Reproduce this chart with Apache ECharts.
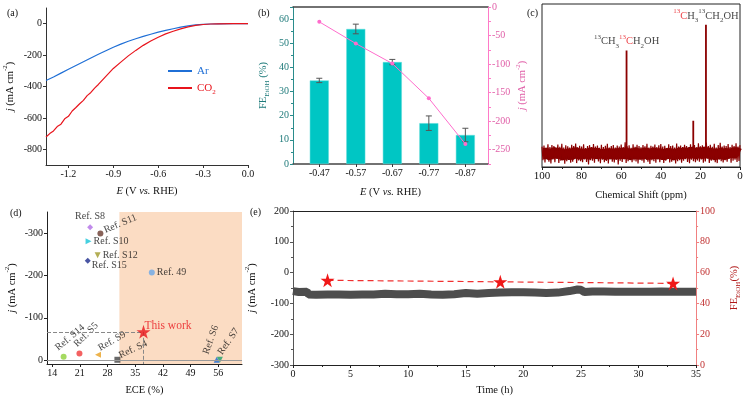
<!DOCTYPE html>
<html lang="en">
<head>
<meta charset="utf-8">
<title>CO2 to EtOH</title>
<script src="https://cdn.jsdelivr.net/npm/echarts@6.0.0/dist/echarts.min.js"></script>
</head>
<body style="margin:0;background:#fff">
<div id="container" style="width:750px;height:399px"></div>
<script>
// (a) LSV curves
var lsvEAr = [-1.35,-1.3,-1.25,-1.2,-1.15,-1.1,-1.05,-1.0,-0.95,-0.9,-0.85,-0.8,-0.75,-0.7,-0.65,-0.6,-0.55,-0.5,-0.45,-0.4,-0.35,-0.3,-0.25,-0.2,-0.1,0];
var lsvAr = [-362,-340,-315,-290,-266,-242,-218,-195,-172,-150,-130,-112,-96,-81,-67,-54,-43,-32,-22,-14,-8,-4,-2,-1,0,0];
var lsvECO2 = [-1.35,-1.325,-1.3,-1.275,-1.25,-1.225,-1.2,-1.175,-1.15,-1.125,-1.1,-1.075,-1.05,-1.025,-1.0,-0.95,-0.9,-0.85,-0.8,-0.75,-0.7,-0.65,-0.6,-0.55,-0.5,-0.45,-0.4,-0.35,-0.3,-0.25,-0.2,-0.1,0];
var lsvCO2 = [-722,-700,-683,-655,-640,-606,-590,-556,-534,-510,-488,-458,-438,-410,-387,-335,-285,-245,-205,-170,-138,-110,-86,-65,-48,-33,-20,-11,-5,-2,-1,0,0];

// (b) FE and partial current
var fePot = [-0.47,-0.57,-0.67,-0.77,-0.87];
var feEtOH = [34.6,55.9,42.2,16.9,12.0];
var feErr = [0.9,2.0,1.1,3.0,2.8];
var jEtOH = [-26,-64,-99,-160,-240];

// (c) 13C NMR: noise envelope (every 1 ppm, from 100 down) and peaks
var nmrUpper = [12.5,13.1,11.8,14.0,12.2,13.5,12.9,11.6,13.8,12.4,
  14.2,12.0,13.3,12.7,11.9,13.6,12.8,14.4,12.1,13.0,
  12.6,13.9,11.7,12.9,13.4,12.2,14.1,12.5,13.2,11.8,
  13.7,12.3,13.0,14.3,12.0,12.8,13.5,11.9,13.1,12.6,
  13.8,12.2,15.2,12.7,13.3,11.8,14.0,12.4,13.6,12.9,
  12.1,13.4,12.7,14.2,11.9,13.0,12.5,13.8,12.2,13.3,
  14.1,12.6,13.0,11.7,13.9,12.8,13.2,12.0,14.4,12.5,
  13.1,12.3,13.7,12.9,11.8,14.0,12.6,13.4,12.1,14.6,
  12.7,13.3,12.2,15.0,12.8,13.6,12.4,14.3,12.0,13.5,
  14.8,12.6,13.2,12.9,14.1,12.3,13.7,12.8,14.5,12.5,
  13.4];
var nmrLower = [4.1,2.8,5.0,3.3,2.2,4.6,3.0,5.3,2.5,3.9,
  4.4,2.0,3.6,4.9,2.7,3.2,5.1,2.4,4.0,3.5,
  2.9,4.7,3.1,1.6,4.2,3.8,2.6,5.0,3.4,2.3,
  4.5,3.0,3.7,2.1,4.8,3.3,2.8,4.3,1.5,3.9,
  3.1,4.6,2.5,3.6,5.2,2.9,4.0,3.4,2.2,4.4,
  3.8,2.6,4.9,3.2,1.9,4.1,3.5,2.7,4.7,3.0,
  4.3,2.4,3.8,5.0,2.8,3.3,4.5,2.1,3.6,4.2,
  2.6,3.9,4.8,3.1,2.3,4.4,3.5,2.9,4.0,3.2,
  4.6,2.7,3.4,5.1,2.5,3.8,4.2,3.0,2.4,4.5,
  3.6,2.8,4.1,3.3,5.0,2.6,3.9,4.4,3.1,3.7];
var peakShift = [57.3, 23.6, 17.2];
var peakHeight = [71.4, 28.3, 87.2];

// (d) comparison with literature
var refNames = ['Ref. S8','Ref. S11','Ref. S10','Ref. S12','Ref. S15','Ref. 49','Ref. S14','Ref. S5','Ref. S9','Ref. S4','Ref. S6','Ref. S7'];
var refECE = [23.6,26.2,23.2,25.5,23.0,39.2,16.9,20.9,25.6,30.5,55.6,56.4];
var refJ = [-314,-299,-281,-248,-235,-207,-8,-16,-13,-1,-1,-1];
var thisWork = [37.1, -67];
var shadeFrom = 31;

// (e) stability
var stabT = [0,0.5,1.2,1.35,2,3,4,5,6,7,8,9,10,11,12,13,14,15,16,17,18,19,20,21,22,23,24,24.7,25,25.3,26,27,28,29,30,31,32,33,34,35];
var stabJ = [-60,-63,-62,-71,-72,-71,-71,-72,-71,-71,-69,-70,-70,-69,-71,-72,-70,-66,-69,-66,-65,-64,-64,-65,-66,-65,-60,-55,-56,-63,-61,-61,-62,-62,-62,-62,-61,-62,-62,-62];
var feT = [3, 18, 33];
var feStab = [55, 54, 53];

var FONT = 'Liberation Serif';
var STAR = 'path://M12,0 L14.9,8.6 L24,8.6 L16.6,13.9 L19.4,22.6 L12,17.3 L4.6,22.6 L7.4,13.9 L0,8.6 L9.1,8.6 Z';

function zip(a, b) { return a.map(function (v, i) { return [v, b[i]]; }); }

function rich(color) {
	return {
		i: {fontStyle: 'italic', fontFamily: FONT, fontSize: 10.5, color: color, lineHeight: 16},
		sup: {fontFamily: FONT, fontSize: 7, color: color, lineHeight: 9, verticalAlign: 'top'},
		sub: {fontFamily: FONT, fontSize: 7, color: color, lineHeight: 9, verticalAlign: 'bottom'},
		r: {fontFamily: FONT, fontSize: 10.5, color: '#e8141c', lineHeight: 16},
		rs: {fontFamily: FONT, fontSize: 7, color: '#e8141c', lineHeight: 9, verticalAlign: 'top'}
	};
}
function nameStyle(color) {
	return {fontFamily: FONT, fontSize: 10.5, color: color, lineHeight: 16, rich: rich(color)};
}
function labelStyle(color, extra) {
	var s = {fontFamily: FONT, fontSize: 10, color: color, margin: 4};
	for (var k in extra) s[k] = extra[k];
	return s;
}
function line(color, w) { return {show: true, onZero: false, lineStyle: {color: color, width: w || 1}}; }
function tick(color, len) { return {show: true, length: len || 3, lineStyle: {color: color}}; }
var JNAME = '{i|j} (mA cm{sup|-2})';
var EPOT = '{i|E} (V {i|vs.} RHE)';

// (d) marker look and where each label starts (px from the marker centre), kept apart from data
var refLook = [
	{symbol: 'diamond', color: '#b26ee6', top: true},
	{symbol: 'circle', color: '#6a3b30', rot: 23, d: [4, -3]},
	{symbol: 'triangle', srot: -90, color: '#17c4d8', rot: 0, d: [5, 0]},
	{symbol: 'triangle', srot: 180, color: '#a09a2a', rot: 0, d: [5, 0]},
	{symbol: 'diamond', color: '#1c2a8c', rot: 0, d: [4, 5]},
	{symbol: 'circle', color: '#6aa8e8', rot: 0, d: [5, 0]},
	{symbol: 'circle', color: '#8fd13a', rot: 40, d: [-7, -8]},
	{symbol: 'circle', color: '#f03a3a', rot: 45, d: [-4, -8]},
	{symbol: 'triangle', srot: 90, color: '#e8a020', rot: 30, d: [1, -6]},
	{symbol: 'rect', color: '#444444', rot: 25, d: [2, -4]},
	{symbol: 'triangle', color: '#1a6ad6', rot: 70, d: [-11, -6]},
	{symbol: 'triangle', srot: 180, color: '#1aa06a', rot: 55, d: [0, -6]}
];
// label offsets are applied in the rotated frame, so turn the screen offset into it
function rotOffset(d, deg) {
	var t = deg * Math.PI / 180, c = Math.cos(t), s = Math.sin(t);
	return [d[0] * c - d[1] * s, d[0] * s + d[1] * c];
}

var nmrData = [], nmrMid = [];
for (var i = 0; i < nmrUpper.length; i++) {
	nmrData.push([100 - i, nmrUpper[i]]);
	if (i < nmrLower.length) {
		nmrData.push([99.5 - i, nmrLower[i]]);
		nmrMid.push([99.5 - i, (nmrUpper[i] + nmrLower[i]) / 2]);
	}
}
var peakData = [];
peakShift.forEach(function (x, k) { peakData.push([x, 6], [x, peakHeight[k]], '-'); });

var dom = document.getElementById('container');
var myChart = echarts.init(dom, null, {renderer: 'canvas'});

var option = {
	animation: false,
	textStyle: {fontFamily: FONT},
	grid: [
		{left: 46, top: 8, width: 202, height: 157},
		{left: 293, top: 7, width: 195, height: 157},
		{left: 542, top: 4, width: 198, height: 163, show: true, borderColor: '#222', borderWidth: 1},
		{left: 47, top: 212, width: 195, height: 156},
		{left: 293, top: 211, width: 420, height: 160}
	],
	legend: {
		left: 168, top: 63, padding: 0, orient: 'vertical', itemGap: 1, itemWidth: 24, itemHeight: 2, icon: 'rect',
		data: [
			{name: 'Ar', textStyle: {color: '#1f6fd6'}},
			{name: 'CO2', textStyle: {color: '#e8141c'}}
		],
		formatter: function (n) { return n === 'CO2' ? 'CO{sub|2}' : n; },
		textStyle: {fontFamily: FONT, fontSize: 11, lineHeight: 16, rich: {sub: {fontFamily: FONT, fontSize: 7, lineHeight: 9, verticalAlign: 'bottom', color: '#e8141c'}}}
	},
	xAxis: [
		{gridIndex: 0, type: 'value', min: -1.35, max: 0, axisLine: line('#333'),
			axisLabel: labelStyle('#111', {customValues: [-1.2, -0.9, -0.6, -0.3, 0], formatter: function (v) { return v.toFixed(1); }}),
			axisTick: {show: true, length: 3, customValues: [-1.2, -0.9, -0.6, -0.3, 0], lineStyle: {color: '#333'}},
			splitLine: {show: false}, name: EPOT, nameLocation: 'middle', nameGap: 18, nameTextStyle: nameStyle('#111')},
		{gridIndex: 1, type: 'value', inverse: true, min: -0.932, max: -0.398, axisLine: line('#444', 1.5),
			axisTick: {show: true, length: 3, customValues: fePot, lineStyle: {color: '#333'}},
			axisLabel: labelStyle('#111', {customValues: fePot, formatter: function (v) { return v.toFixed(2); }}),
			splitLine: {show: false}, name: EPOT, nameLocation: 'middle', nameGap: 20, nameTextStyle: nameStyle('#111')},
		{gridIndex: 1, type: 'value', position: 'top', inverse: true, min: -0.932, max: -0.398, axisLine: line('#444', 1.5),
			axisTick: {show: false}, axisLabel: {show: false}, splitLine: {show: false}},
		{gridIndex: 2, type: 'value', inverse: true, min: 0, max: 100, interval: 20, axisLine: line('#222', 1.2),
			axisTick: tick('#222'), minorTick: {show: true, splitNumber: 2, length: 2, lineStyle: {color: '#222'}},
			axisLabel: labelStyle('#111', {fontSize: 11}), splitLine: {show: false},
			name: 'Chemical Shift (ppm)', nameLocation: 'middle', nameGap: 20, nameTextStyle: nameStyle('#111')},
		{gridIndex: 3, type: 'value', min: 12.7, max: 62, axisLine: line('#222'),
			axisTick: {show: true, length: 3, customValues: [14, 21, 28, 35, 42, 49, 56], lineStyle: {color: '#222'}},
			axisLabel: labelStyle('#111', {customValues: [14, 21, 28, 35, 42, 49, 56]}), splitLine: {show: false},
			name: 'ECE (%)', nameLocation: 'middle', nameGap: 18, nameTextStyle: nameStyle('#111')},
		{gridIndex: 4, type: 'value', min: 0, max: 35, interval: 5, axisLine: line('#222'), axisTick: tick('#222'),
			minorTick: {show: true, splitNumber: 2, length: 2, lineStyle: {color: '#222'}},
			axisLabel: labelStyle('#111'), splitLine: {show: false},
			name: 'Time (h)', nameLocation: 'middle', nameGap: 17, nameTextStyle: nameStyle('#111')},
		{gridIndex: 4, type: 'value', position: 'top', min: 0, max: 35, axisLine: line('#222'),
			axisTick: {show: false}, axisLabel: {show: false}, splitLine: {show: false}}
	],
	yAxis: [
		{gridIndex: 0, type: 'value', min: -900, max: 100, axisLine: line('#333'),
			axisTick: {show: true, length: 3, customValues: [-800, -600, -400, -200, 0], lineStyle: {color: '#333'}},
			axisLabel: labelStyle('#111', {customValues: [-800, -600, -400, -200, 0]}), splitLine: {show: false},
			name: JNAME, nameLocation: 'middle', nameGap: 28, nameTextStyle: nameStyle('#111')},
		{gridIndex: 1, type: 'value', min: 0, max: 65, interval: 10, axisLine: line('#2a8c8c'), axisTick: tick('#2a8c8c'),
			minorTick: {show: true, splitNumber: 2, length: 2, lineStyle: {color: '#2a8c8c'}},
			axisLabel: labelStyle('#1e7a7a', {showMaxLabel: false}), splitLine: {show: false},
			name: 'FE{sub|EtOH} (%)', nameLocation: 'middle', nameGap: 22, nameTextStyle: nameStyle('#1e7a7a')},
		{gridIndex: 1, type: 'value', position: 'right', min: -275, max: 0, interval: 25, axisLine: line('#ff7ac8'), axisTick: tick('#ff7ac8'),
			axisLabel: labelStyle('#e060a8', {formatter: function (v) { return v % 50 === 0 ? String(v) : ''; }}), splitLine: {show: false},
			name: JNAME, nameLocation: 'middle', nameGap: 26, nameTextStyle: nameStyle('#e060a8')},
		{gridIndex: 2, type: 'value', min: 0, max: 100, axisLine: {show: false}, axisTick: {show: false}, axisLabel: {show: false}, splitLine: {show: false}},
		{gridIndex: 3, type: 'value', inverse: true, min: -350, max: 9, axisLine: line('#222'),
			axisTick: {show: true, length: 3, customValues: [-300, -200, -100, 0], lineStyle: {color: '#222'}},
			axisLabel: labelStyle('#111', {customValues: [-300, -200, -100, 0]}), splitLine: {show: false},
			name: JNAME, nameLocation: 'middle', nameGap: 27, nameTextStyle: nameStyle('#111')},
		{gridIndex: 4, type: 'value', min: -300, max: 200, interval: 100, axisLine: line('#555'), axisTick: tick('#555'),
			minorTick: {show: true, splitNumber: 2, length: 2, lineStyle: {color: '#555'}},
			axisLabel: labelStyle('#111'), splitLine: {show: false},
			name: JNAME, nameLocation: 'middle', nameGap: 26, nameTextStyle: nameStyle('#111')},
		{gridIndex: 4, type: 'value', position: 'right', min: 0, max: 100, interval: 20, axisLine: line('#f08080'), axisTick: tick('#f08080'),
			minorTick: {show: true, splitNumber: 2, length: 2, lineStyle: {color: '#f08080'}},
			axisLabel: labelStyle('#c03030'), splitLine: {show: false},
			name: 'FE{sub|EtOH}(%)', nameLocation: 'middle', nameGap: 20, nameTextStyle: nameStyle('#b01818')}
	],
	series: [
		// (a)
		{name: 'Ar', type: 'line', xAxisIndex: 0, yAxisIndex: 0, data: zip(lsvEAr, lsvAr), showSymbol: false,
			lineStyle: {color: '#1f6fd6', width: 1.2}, itemStyle: {color: '#1f6fd6'}},
		{name: 'CO2', type: 'line', xAxisIndex: 0, yAxisIndex: 0, data: zip(lsvECO2, lsvCO2), showSymbol: false,
			lineStyle: {color: '#e8141c', width: 1.2}, itemStyle: {color: '#e8141c'}},
		// (b)
		{name: 'FE', type: 'bar', xAxisIndex: 1, yAxisIndex: 1, data: zip(fePot, feEtOH), barWidth: 19,
			itemStyle: {color: '#00c6c4', borderColor: '#5fdcda', borderWidth: 0.5}},
		{name: 'FEerr', type: 'custom', xAxisIndex: 1, yAxisIndex: 1, z: 5,
			data: fePot.map(function (p, k) { return [p, feEtOH[k] - feErr[k], feEtOH[k] + feErr[k]]; }),
			renderItem: function (params, api) {
				var lo = api.coord([api.value(0), api.value(1)]);
				var hi = api.coord([api.value(0), api.value(2)]);
				var st = {stroke: '#555', lineWidth: 1};
				return {type: 'group', children: [
					{type: 'line', shape: {x1: lo[0], y1: lo[1], x2: hi[0], y2: hi[1]}, style: st},
					{type: 'line', shape: {x1: lo[0] - 3, y1: lo[1], x2: lo[0] + 3, y2: lo[1]}, style: st},
					{type: 'line', shape: {x1: hi[0] - 3, y1: hi[1], x2: hi[0] + 3, y2: hi[1]}, style: st}
				]};
			}},
		{name: 'jEtOH', type: 'line', xAxisIndex: 1, yAxisIndex: 2, data: zip(fePot, jEtOH), z: 6,
			symbol: 'circle', symbolSize: 4, lineStyle: {color: '#ff6ccc', width: 1}, itemStyle: {color: '#ff6ccc'}},
		// (c)
		{name: 'nmrMid', type: 'line', xAxisIndex: 3, yAxisIndex: 3, data: nmrMid, showSymbol: false,
			lineStyle: {color: '#7e0000', width: 11}},
		{name: 'nmr', type: 'line', xAxisIndex: 3, yAxisIndex: 3, data: nmrData, showSymbol: false,
			lineStyle: {color: '#8b0000', width: 1.2}},
		{name: 'peaks', type: 'line', xAxisIndex: 3, yAxisIndex: 3, data: peakData, showSymbol: false, connectNulls: false,
			lineStyle: {color: '#8b0000', width: 1.8}},
		{name: 'peakLabels', type: 'scatter', xAxisIndex: 3, yAxisIndex: 3, symbolSize: 0,
			data: [
				{value: [peakShift[0], peakHeight[0]], label: {formatter: '{sup|13}CH{sub|3}{rs|13}{r|C}H{sub|2}OH'}},
				{value: [peakShift[2], peakHeight[2]], label: {formatter: '{rs|13}{r|C}H{sub|3}{sup|13}CH{sub|2}OH'}}
			],
			label: {show: true, position: 'top', distance: 1, fontFamily: FONT, fontSize: 10.5, color: '#111', lineHeight: 16, rich: rich('#111')}},
		// (d)
		{name: 'shade', type: 'line', xAxisIndex: 4, yAxisIndex: 4, data: [], z: 1,
			markArea: {silent: true, itemStyle: {color: '#fbdcc3'}, data: [[{xAxis: shadeFrom}, {xAxis: 62}]]},
			markLine: {silent: true, symbol: 'none', label: {show: false}, lineStyle: {color: '#9a9a9a', type: 'solid', width: 1},
				data: [{yAxis: 0}]}},
		{name: 'refs', type: 'scatter', xAxisIndex: 4, yAxisIndex: 4, z: 4,
			data: refNames.map(function (n, k) {
				var lk = refLook[k];
				var lab = lk.top ? {position: 'top', align: 'center', distance: 3}
					: {position: 'inside', align: 'left', verticalAlign: 'middle', rotate: lk.rot, offset: rotOffset(lk.d, lk.rot)};
				return {name: n, value: [refECE[k], refJ[k]], symbol: lk.symbol, symbolRotate: lk.srot || 0,
					itemStyle: {color: lk.color}, label: lab};
			}),
			symbolSize: 6,
			label: {show: true, formatter: '{b}', fontFamily: FONT, fontSize: 10, color: '#111'}},
		{name: 'thisWork', type: 'scatter', xAxisIndex: 4, yAxisIndex: 4, z: 5,
			data: [{name: 'This work', value: thisWork}], symbol: STAR, symbolSize: 14, itemStyle: {color: '#e8141c'},
			label: {show: true, formatter: '{b}', position: 'right', offset: [-11, -6], fontFamily: FONT, fontSize: 11.5, color: '#e8141c'},
			markLine: {silent: true, symbol: 'none', label: {show: false}, lineStyle: {color: '#888', type: 'dashed', width: 1},
				data: [
					[{coord: [12.7, thisWork[1]]}, {coord: thisWork}],
					[{coord: thisWork}, {coord: [thisWork[0], 9]}]
				]}},
		// (e)
		{name: 'stab', type: 'line', xAxisIndex: 5, yAxisIndex: 5, data: zip(stabT, stabJ), showSymbol: false,
			lineStyle: {color: '#4d4d4d', width: 8, cap: 'butt'}},
		{name: 'feStab', type: 'line', xAxisIndex: 5, yAxisIndex: 6, data: zip(feT, feStab), z: 5,
			symbol: STAR, symbolSize: 14, lineStyle: {color: '#f03030', width: 1.2, type: [6, 4]}, itemStyle: {color: '#f01818'}}
	],
	graphic: [
		{type: 'text', left: 7, top: 8, style: {text: '(a)', font: '10px "Liberation Serif"', fill: '#111'}},
		{type: 'text', left: 258, top: 8, style: {text: '(b)', font: '10px "Liberation Serif"', fill: '#111'}},
		{type: 'text', left: 527, top: 8, style: {text: '(c)', font: '10px "Liberation Serif"', fill: '#111'}},
		{type: 'text', left: 10, top: 208, style: {text: '(d)', font: '10px "Liberation Serif"', fill: '#111'}},
		{type: 'text', left: 250, top: 207, style: {text: '(e)', font: '10px "Liberation Serif"', fill: '#111'}}
	]
};

myChart.setOption(option);
</script>
</body>
</html>
